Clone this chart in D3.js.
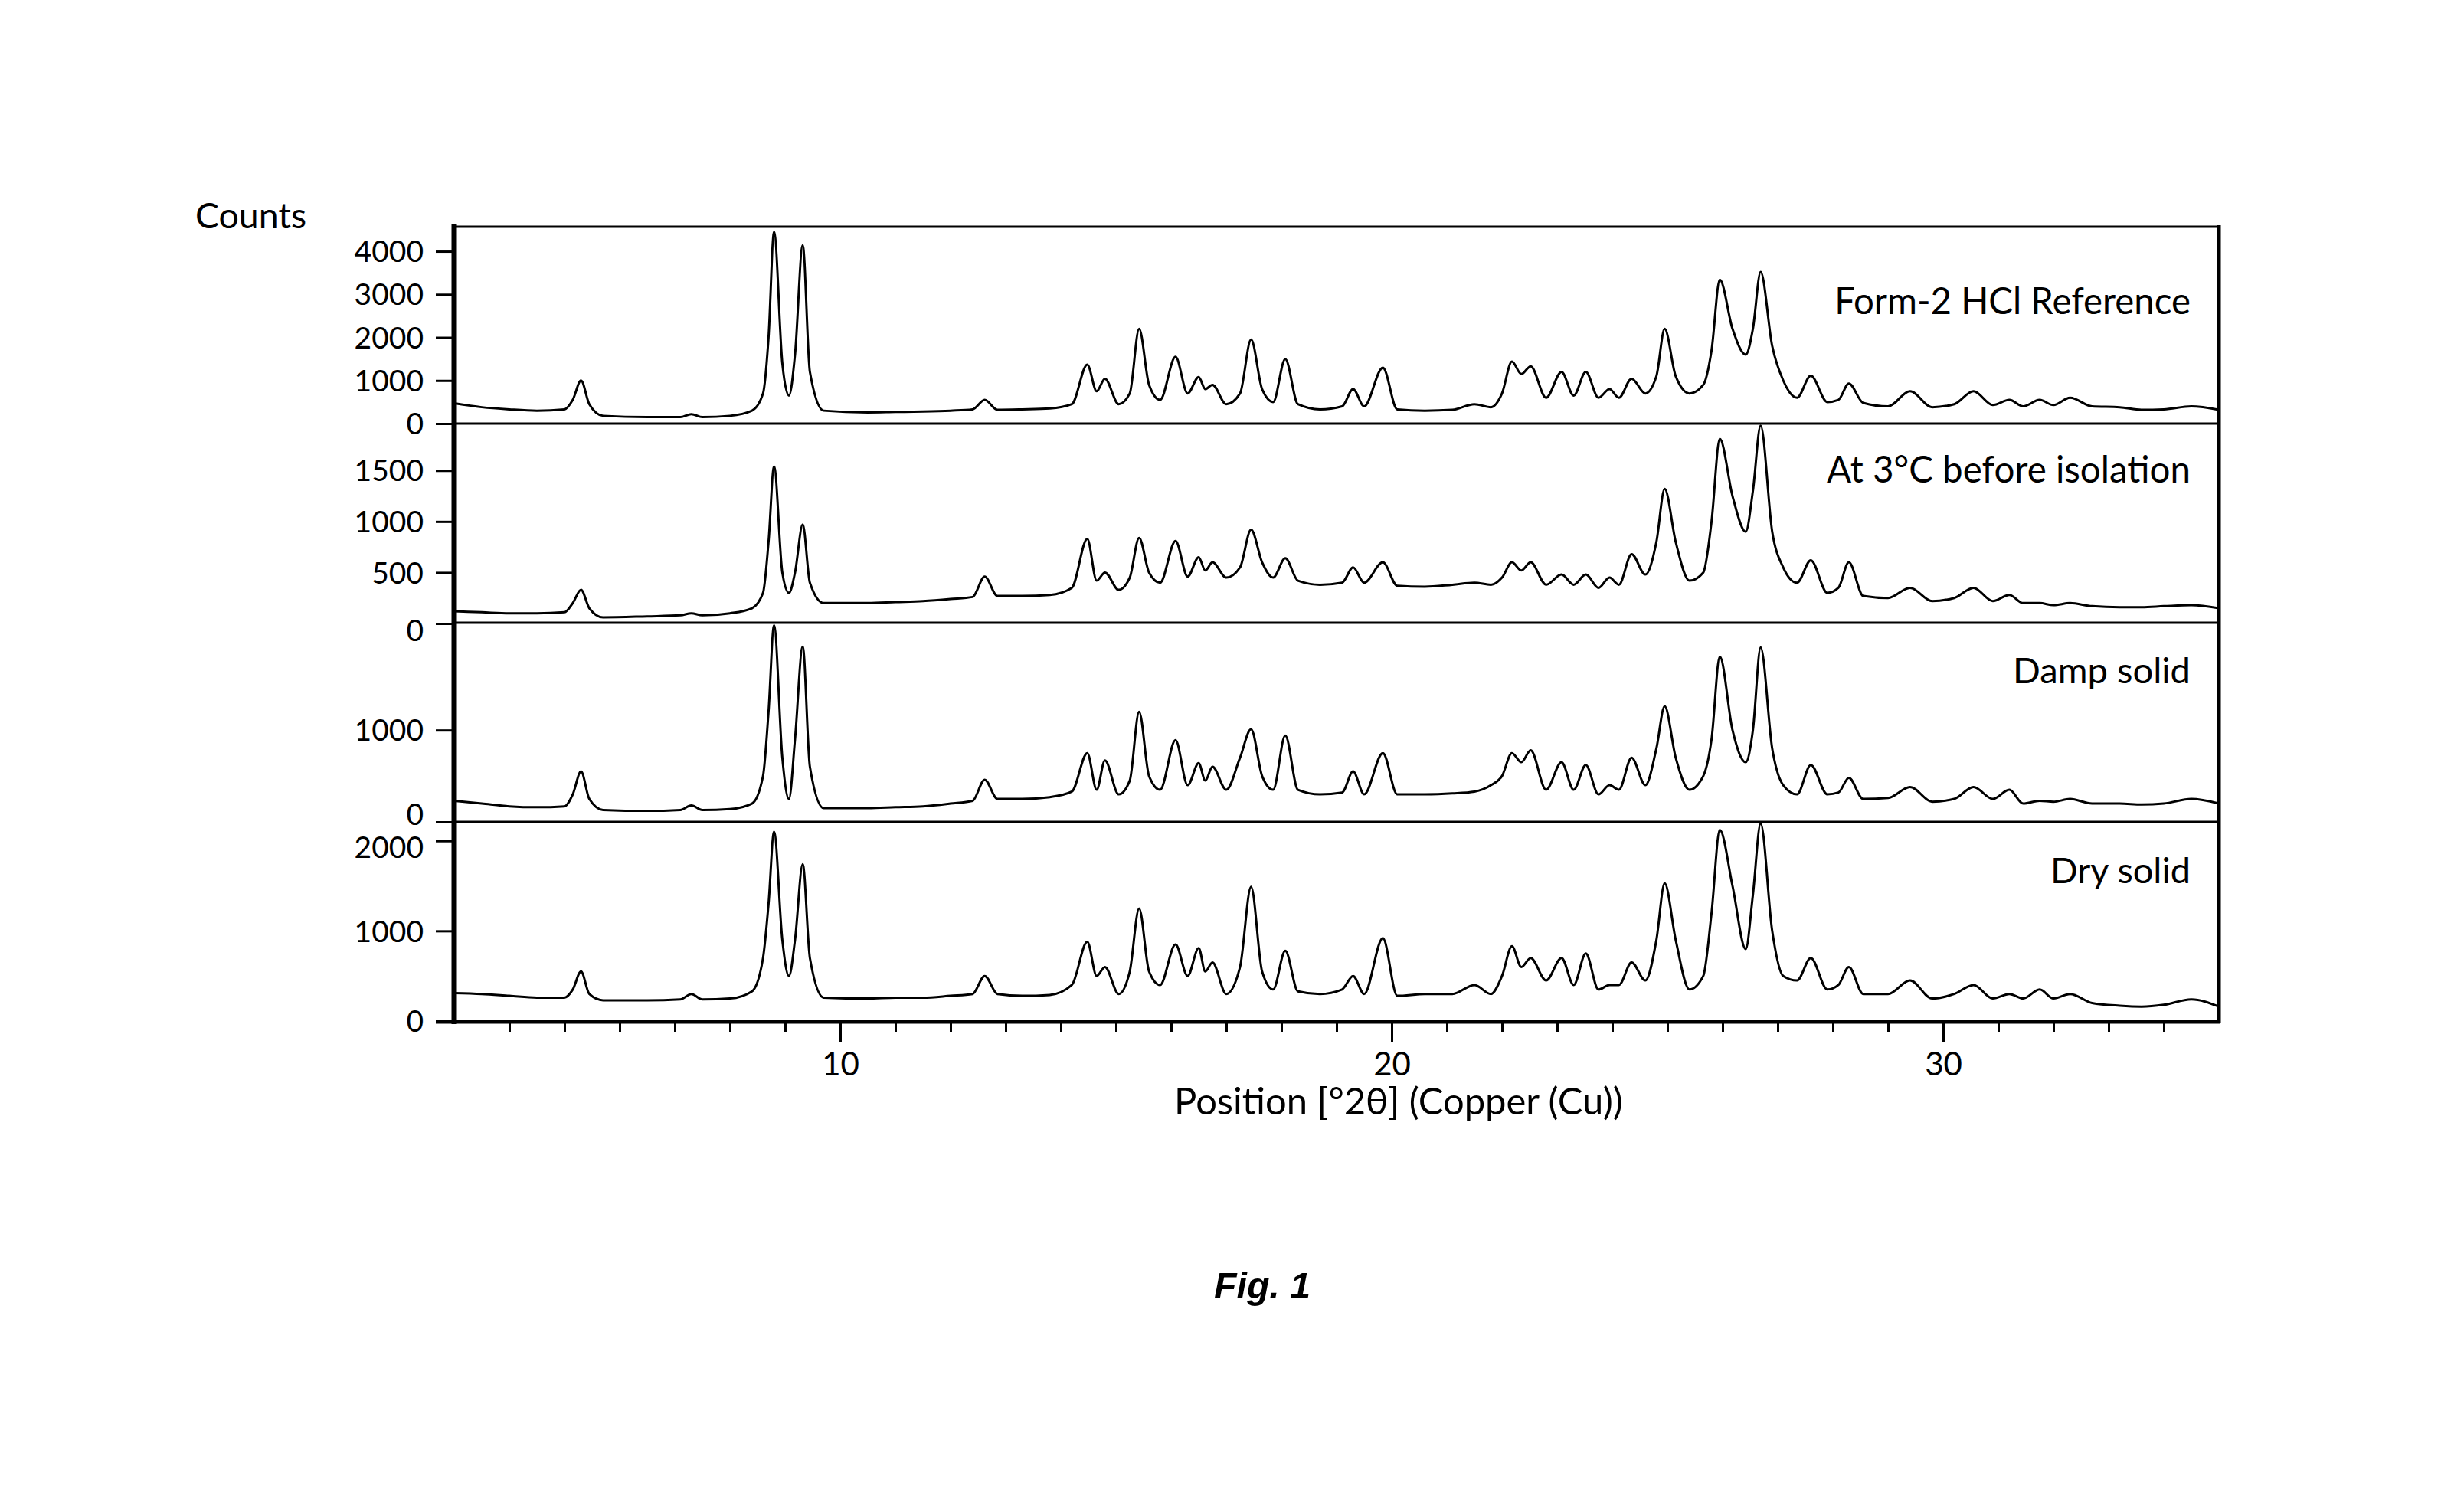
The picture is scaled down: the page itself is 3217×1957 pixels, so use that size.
<!DOCTYPE html>
<html>
<head>
<meta charset="utf-8">
<script src="https://cdn.jsdelivr.net/npm/d3@7"></script>
<style>
  html, body { margin: 0; padding: 0; background: #fff; }
  svg { display: block; }
  text { font-family: Lato, "Open Sans", sans-serif; fill: #000; }
</style>
</head>
<body>
<script>
// ---------- DATA ----------
const twoTheta = [
  3.0, 3.5, 4.0, 4.5, 5.0, 5.15, 5.3, 5.45, 5.7, 6.5,
  7.1, 7.3, 7.5, 8.0, 8.4, 8.6, 8.7, 8.8, 8.95, 9.07,
  9.18, 9.32, 9.45, 9.7, 10.5, 11.0, 11.5, 12.0, 12.4, 12.62,
  12.85, 13.3, 13.8, 14.2, 14.48, 14.65, 14.8, 15.05, 15.25, 15.42,
  15.6, 15.8, 16.08, 16.3, 16.5, 16.62, 16.75, 17.0, 17.25, 17.45,
  17.65, 17.85, 18.07, 18.3, 18.7, 19.1, 19.3, 19.5, 19.84, 20.1,
  20.6, 21.1, 21.5, 21.8, 22.0, 22.18, 22.35, 22.52, 22.8, 23.08,
  23.3, 23.52, 23.75, 23.95, 24.12, 24.35, 24.6, 24.8, 24.95, 25.15,
  25.4, 25.65, 25.8, 25.95, 26.18, 26.42, 26.55, 26.69, 26.9, 27.1,
  27.35, 27.6, 27.9, 28.1, 28.29, 28.55, 29.0, 29.4, 29.8, 30.2,
  30.55, 30.9, 31.2, 31.45, 31.75, 32.0, 32.3, 32.7, 33.2, 33.6,
  34.0, 34.5, 35.0
];

const formRef = [
  470, 380, 330, 300, 330, 550, 1000, 450, 180, 150,
  150, 220, 150, 180, 300, 700, 2000, 4450, 1400, 650,
  1600, 4140, 1200, 300, 260, 270, 280, 300, 330, 550,
  320, 330, 350, 450, 1370, 750, 1040, 450, 700, 2200,
  900, 550, 1550, 700, 1080, 800, 900, 450, 700, 1950,
  800, 500, 1500, 450, 330, 400, 800, 400, 1300, 330,
  300, 320, 450, 380, 700, 1440, 1150, 1330, 600, 1200,
  650, 1200, 600, 800, 600, 1040, 700, 1100, 2200, 1100,
  700, 900, 1700, 3340, 2200, 1600, 2200, 3520, 1800, 1000,
  600, 1110, 500, 550, 930, 480, 400, 750, 380, 450,
  750, 430, 550, 400, 550, 430, 600, 400, 380, 320,
  330, 400, 320
];

const at3C = [
  120, 110, 100, 100, 110, 200, 330, 150, 60, 70,
  80, 100, 80, 100, 150, 300, 800, 1540, 500, 300,
  500, 970, 400, 200, 200, 210, 220, 240, 260, 460,
  270, 270, 280, 350, 830, 420, 500, 330, 450, 840,
  500, 400, 810, 460, 650, 520, 600, 450, 550, 920,
  600, 450, 640, 420, 380, 400, 550, 400, 600, 370,
  360, 380, 400, 380, 450, 600, 520, 600, 380, 480,
  380, 480, 350, 450, 380, 680, 480, 800, 1320, 800,
  420, 500, 1000, 1810, 1250, 900, 1300, 1940, 900, 550,
  400, 620, 300, 350, 600, 270, 250, 350, 220, 250,
  350, 220, 280, 200, 200, 180, 200, 170, 160, 160,
  170, 180, 150
];

const dampSolid = [
  230, 200, 170, 160, 170, 300, 550, 250, 130, 120,
  130, 180, 130, 140, 200, 500, 1200, 2140, 700, 250,
  900, 1910, 600, 150, 150, 160, 170, 200, 230, 460,
  250, 250, 270, 330, 750, 350, 670, 300, 450, 1200,
  500, 350, 890, 400, 640, 450, 600, 350, 700, 1010,
  500, 350, 940, 350, 300, 320, 550, 300, 750, 300,
  300, 310, 330, 400, 500, 750, 650, 780, 350, 650,
  350, 620, 300, 400, 350, 700, 400, 800, 1260, 700,
  350, 500, 900, 1800, 1000, 650, 1000, 1900, 800, 400,
  300, 620, 300, 320, 480, 250, 260, 380, 220, 250,
  380, 250, 350, 200, 230, 220, 250, 200, 200, 190,
  200, 250, 200
];

const drySolid = [
  310, 300, 280, 260, 260, 350, 550, 300, 230, 230,
  240, 300, 240, 250, 330, 700, 1300, 2100, 900, 500,
  900, 1740, 700, 260, 250, 260, 260, 280, 300, 500,
  300, 280, 290, 400, 880, 500, 600, 300, 550, 1250,
  550, 400, 850, 500, 810, 550, 650, 300, 600, 1490,
  550, 350, 780, 330, 300, 350, 500, 300, 920, 280,
  300, 300, 400, 300, 500, 830, 600, 700, 450, 700,
  400, 750, 350, 400, 400, 650, 450, 900, 1530, 900,
  350, 500, 1200, 2120, 1500, 800, 1400, 2190, 1000, 500,
  450, 700, 350, 400, 600, 300, 300, 450, 250, 300,
  400, 250, 300, 250, 350, 250, 300, 200, 170, 160,
  180, 240, 160
];

const seriesNames = ["Form-2 HCl Reference", "At 3°C before isolation", "Damp solid", "Dry solid"];
const seriesValues = [formRef, at3C, dampSolid, drySolid];
const yMax = [4570, 1960, 2170, 2210];
const yTicks = [[0, 1000, 2000, 3000, 4000], [0, 500, 1000, 1500], [0, 1000], [0, 1000, 2000]];
const xDomain = [3, 35];
const xMajorTicks = [10, 20, 30];
const xMinorTicks = d3.range(4, 35, 1).filter(v => v % 10 !== 0);
const yAxisTitle = "Counts";
const xAxisTitle = "Position [°2θ] (Copper (Cu))";
const figCaption = "Fig. 1";

// ---------- LAYOUT ----------
const W = 3217, H = 1957;
const L = 593, R = 2897;
const panelTop = [296, 553, 813, 1073];
const panelZero = [553, 814, 1073, 1333];
const labelBaseline = [410, 630, 892, 1153];
const labelRight = 2860;
const tickLabelDy = [[0, 0, 0, 0, 0], [9, 0, 0, 0], [-10, 0], [0, 0, 8]];

const svg = d3.select("body").append("svg")
  .attr("width", W).attr("height", H)
  .attr("viewBox", `0 0 ${W} ${H}`);
svg.append("rect").attr("width", W).attr("height", H).attr("fill", "#fff");

const x = d3.scaleLinear().domain(xDomain).range([L, R]);

function fitText(sel, target) {
  const fs = parseFloat(sel.attr("font-size"));
  const len = sel.node().getComputedTextLength();
  if (len > 0) sel.attr("font-size", (fs * target / len).toFixed(2));
}

const defs = svg.append("defs");

seriesValues.forEach((vals, i) => {
  const y = d3.scaleLinear().domain([0, yMax[i]]).range([panelZero[i], panelTop[i]]);
  const bottom = i < 3 ? panelTop[i + 1] : panelZero[i];

  defs.append("clipPath").attr("id", "clip" + i)
    .append("rect").attr("x", L).attr("y", panelTop[i])
    .attr("width", R - L).attr("height", bottom - panelTop[i]);

  const data = twoTheta.map((t, k) => [t, vals[k]]);
  const line = d3.line().x(d => x(d[0])).y(d => y(d[1])).curve(d3.curveMonotoneX);

  svg.append("path")
    .attr("d", line(data))
    .attr("clip-path", `url(#clip${i})`)
    .attr("fill", "none").attr("stroke", "#000")
    .attr("stroke-width", 3).attr("stroke-linejoin", "round");

  // y axis ticks
  const ax = svg.append("g").attr("transform", `translate(${L},0)`)
    .call(d3.axisLeft(y).tickValues(yTicks[i]).tickSize(24).tickPadding(16).tickFormat(d3.format("d")));
  ax.select(".domain").remove();
  ax.selectAll(".tick line").attr("stroke", "#000").attr("stroke-width", 3);
  ax.selectAll(".tick text")
    .attr("font-family", "Lato, 'Open Sans', sans-serif")
    .attr("font-size", 39).attr("fill", "#000")
    .attr("dy", (d, k) => (0.35 * 39 + tickLabelDy[i][k]) + "px");

  // series label
  const lab = svg.append("text")
    .attr("x", labelRight).attr("y", labelBaseline[i])
    .attr("text-anchor", "end").attr("font-size", 46)
    .text(seriesNames[i]);
  const targets = [465, 475, 232, 183];
  fitText(lab, targets[i]);
});

// separators between panels
[553, 813, 1073].forEach(yy => {
  svg.append("line").attr("x1", L).attr("x2", R).attr("y1", yy).attr("y2", yy)
    .attr("stroke", "#000").attr("stroke-width", 3);
});

// frame
svg.append("line").attr("x1", L).attr("x2", R).attr("y1", 296).attr("y2", 296)
  .attr("stroke", "#000").attr("stroke-width", 3);
svg.append("line").attr("x1", L - 24).attr("x2", R + 2).attr("y1", 1334).attr("y2", 1334)
  .attr("stroke", "#000").attr("stroke-width", 5);
svg.append("line").attr("x1", R).attr("x2", R).attr("y1", 294).attr("y2", 1336)
  .attr("stroke", "#000").attr("stroke-width", 5);
svg.append("line").attr("x1", L).attr("x2", L).attr("y1", 293).attr("y2", 1337)
  .attr("stroke", "#000").attr("stroke-width", 7);

// x axis
const xAxis = svg.append("g").attr("transform", "translate(0,1334)")
  .call(d3.axisBottom(x).tickValues(xMajorTicks).tickSize(26).tickPadding(14).tickFormat(d3.format("d")));
xAxis.select(".domain").remove();
xAxis.selectAll(".tick line").attr("stroke", "#000").attr("stroke-width", 3);
xAxis.selectAll(".tick text")
  .attr("font-family", "Lato, 'Open Sans', sans-serif")
  .attr("font-size", 42).attr("fill", "#000");

const xMinor = svg.append("g").attr("transform", "translate(0,1334)")
  .call(d3.axisBottom(x).tickValues(xMinorTicks).tickSize(13).tickFormat(""));
xMinor.select(".domain").remove();
xMinor.selectAll(".tick line").attr("stroke", "#000").attr("stroke-width", 3);

// titles
const yt = svg.append("text").attr("x", 255).attr("y", 298).attr("font-size", 46).text(yAxisTitle);
fitText(yt, 145);

const xt = svg.append("text").attr("x", 1826).attr("y", 1455)
  .attr("text-anchor", "middle").attr("font-size", 42).text(xAxisTitle);
fitText(xt, 586);

const fc = svg.append("text").attr("x", 1648).attr("y", 1695)
  .attr("text-anchor", "middle")
  .attr("font-weight", "bold").attr("font-style", "italic")
  .attr("font-size", 58).text(figCaption);
fc.style("font-family", "'Liberation Sans Narrow', 'Liberation Sans', Arial, sans-serif");
fitText(fc, 126);
</script>
</body>
</html>
